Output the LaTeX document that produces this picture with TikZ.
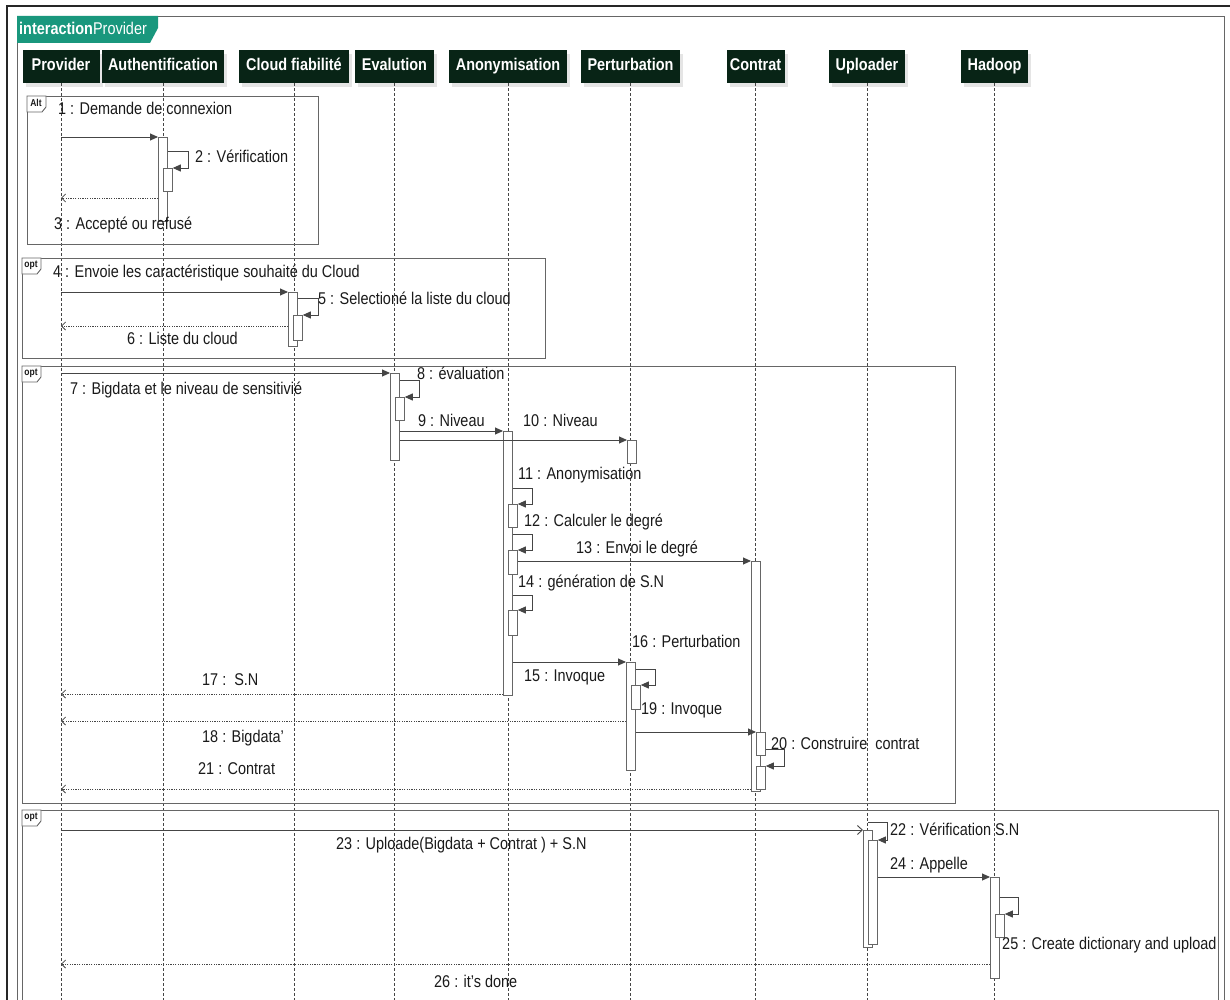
\documentclass[tikz,border=0pt]{standalone}
\usepackage{fontspec}
\setmainfont{Liberation Sans}[FakeStretch=0.85]
\usetikzlibrary{arrows.meta,shadows}
\definecolor{hd}{HTML}{082416}
\definecolor{tealtab}{HTML}{19977D}
\definecolor{ln}{HTML}{454545}
\definecolor{tx}{HTML}{1A1A1A}
\newcommand\actbox[5]{\node[act,anchor=north west,minimum width={#4-#2},minimum height={#5-#3}] (#1) at (#2,#3) {};}
\newcommand\fragtab[3]{\draw[frameline,fill=white] (#1,#2) -- ++(19,0) -- ++(0,11) -- ++(-4,5) -- ++(-15,0) -- cycle;
  \node[font=\fontsize{10}{11}\selectfont\bfseries,text=tx,inner sep=0] at (#1+9,#2+7) {#3};}
\begin{document}
\begin{tikzpicture}[x=1pt,y=-1pt,
  head/.style={fill=hd,text=white,font=\fontsize{17}{19}\selectfont\bfseries,inner sep=0,minimum height=33,
    text height=12.5,text depth=3.5,
    drop shadow={shadow xshift=3pt,shadow yshift=-4pt,fill=black!10,opacity=1}},
  life/.style={draw=ln,line width=0.7pt,dash pattern=on 3pt off 2pt},
  act/.style={draw=black!60,fill=white,line width=0.8pt,inner sep=0},
  msg/.style={draw=ln,line width=0.9pt,-{Triangle[length=8pt,width=7pt]}},
  amsg/.style={draw=ln,line width=0.9pt,-{Straight Barb[length=5pt,width=9pt]}},
  ret/.style={draw=ln,line width=0.8pt,dash pattern=on 1.2pt off 1.2pt,-{Straight Barb[length=4pt,width=8pt,line width=0.8pt]}},
  lbl/.style={inner sep=0,anchor=west,text=tx,font=\fontsize{17}{19}\selectfont,text height=12.5,text depth=3.5},
  frameline/.style={draw=black!60,line width=0.9pt}]
\useasboundingbox (0,0) rectangle (1230,1000);
\clip (0,0) rectangle (1230,1000);
\fill[white] (0,0) rectangle (1230,1000);
% outer frames
\draw[black!85,line width=1.3pt] (7,1010) -- (7,6) -- (1240,6);
\draw[frameline] (17,1010) -- (17,16) -- (1224,16) -- (1224,1010);
\fill[tealtab] (17,16) -- (158,16) -- (158,28) -- (150,43) -- (17,43) -- cycle;
\node[anchor=west,inner sep=0,text=white,font=\fontsize{17}{19}\selectfont,text height=12.5,text depth=3.5] (title) at (19,30) {\textbf{interaction}Provider};
% headers
\coordinate (bottom) at (0,1000);
\node[head,minimum width=77] (prov) at (61,66.5) {Provider};
\node[head,minimum width=122] (auth) at (163,66.5) {Authentification};
\node[head,minimum width=110] (cloud) at (294,66.5) {Cloud fiabilité};
\node[head,minimum width=79] (eval) at (394.5,66.5) {Evalution};
\node[head,minimum width=118] (anon) at (508,66.5) {Anonymisation};
\node[head,minimum width=99] (pert) at (630.5,66.5) {Perturbation};
\node[head,minimum width=58] (cont) at (755.5,66.5) {Contrat};
\node[head,minimum width=76] (upl) at (867,66.5) {Uploader};
\node[head,minimum width=67] (had) at (994.5,66.5) {Hadoop};
\foreach \n in {prov,auth,cloud,eval,anon,pert,cont,upl,had}
  \draw[life] (\n.south) -- (\n.south |- bottom);
% fragments
\draw[frameline] (27,96) rectangle (318,244);
\fragtab{27}{96}{Alt}
\draw[frameline] (22,258) rectangle (545,358);
\fragtab{22}{258}{opt}
\draw[frameline] (22,366) rectangle (955,803);
\fragtab{22}{366}{opt}
\draw[frameline] (22,1010) -- (22,810) -- (1218,810) -- (1218,1010);
\fragtab{22}{810}{opt}
% activations
\actbox{A1}{158}{137}{167}{221}
\actbox{A1b}{163}{168}{172}{191}
\actbox{A2}{288}{292}{297}{346}
\actbox{A2b}{293}{315}{302}{340}
\actbox{A3}{390}{373}{399}{460}
\actbox{A3b}{395}{397}{404}{420}
\actbox{A4}{503}{431}{512}{695}
\actbox{A4b}{508}{504}{517}{527}
\actbox{A4c}{508}{550}{517}{574}
\actbox{A4d}{508}{610}{517}{635}
\actbox{A5}{627}{440}{636}{463}
\actbox{A6}{626}{662}{635}{770}
\actbox{A6b}{631}{685}{640}{709}
\actbox{A7}{751}{561}{760}{791}
\actbox{A7b}{756}{732}{765}{755}
\actbox{A7c}{756}{766}{765}{789}
\actbox{A8}{863}{830}{872}{947}
\actbox{A8b}{868}{840}{877}{944}
\actbox{A9}{990}{877}{999}{978}
\actbox{A9b}{995}{914}{1004}{937}
% message anchors on Provider / Uploader lifelines
\coordinate (c1) at (61,137);
\coordinate (c3) at (61,198);
\coordinate (c4) at (61,292);
\coordinate (c6) at (61,326);
\coordinate (c7) at (61,373);
\coordinate (c17) at (61,694);
\coordinate (c18) at (61,721);
\coordinate (c21) at (61,789);
\coordinate (c22) at (868,822);
\coordinate (c23) at (61,830);
\coordinate (c26) at (61,964);
% messages
\draw[msg] (c1) -- (A1.north west);
\draw[msg] ([yshift=-14pt]A1.north east) -- ++(21,0) |- (A1b.north east);
\draw[ret] (c3 -| A1.west) -- (c3);
\draw[msg] (c4) -- (A2.north west);
\draw[msg] ([yshift=-6pt]A2.north east) -- ++(21,0) |- (A2b.north east);
\draw[ret] (c6 -| A2.west) -- (c6);
\draw[msg] (c7) -- (A3.north west);
\draw[msg] ([yshift=-7pt]A3.north east) -- ++(20,0) |- (A3b.north east);
\draw[msg] (A3.east |- A4.north) -- (A4.north west);
\draw[msg] (A3.east |- A5.north) -- (A5.north west);
\draw[msg] ([yshift=-57pt]A4.north east) -- ++(20,0) |- (A4b.north east);
\draw[msg] ([yshift=-103pt]A4.north east) -- ++(20,0) |- (A4c.north east);
\draw[msg] (A4c.east |- A7.north) -- (A7.north west);
\draw[msg] ([yshift=-164pt]A4.north east) -- ++(20,0) |- (A4d.north east);
\draw[msg] (A4.east |- A6.north) -- (A6.north west);
\draw[msg] ([yshift=-7pt]A6.north east) -- ++(20,0) |- (A6b.north east);
\draw[ret] (c17 -| A4.west) -- (c17);
\draw[ret] (c18 -| A6.west) -- (c18);
\draw[msg] (A6.east |- A7b.north) -- (A7b.north west);
\draw[msg] ([yshift=-17pt]A7b.north east) -- ++(19,0) |- (A7c.north east);
\draw[ret] (c21 -| A7.west) -- (c21);
\draw[msg] (c22) -- ++(19,0) |- (A8b.north east);
\draw[amsg] (c23) -- (A8.north west);
\draw[msg] (A8b.east |- A9.north) -- (A9.north west);
\draw[msg] ([yshift=-20pt]A9.north east) -- ++(19,0) |- (A9b.north east);
\draw[ret] (c26 -| A9.west) -- (c26);
% labels
\node[lbl] (l1) at (58,110) {1 : Demande de connexion};
\node[lbl] (l2) at (195,158) {2 : Vérification};
\node[lbl] (l3) at (54,225) {3 : Accepté ou refusé};
\node[lbl] (l4) at (53,273) {4 : Envoie les caractéristique souhaité du Cloud};
\node[lbl] (l5) at (318,300) {5 : Selectioné la liste du cloud};
\node[lbl] (l6) at (127,340) {6 : Liste du cloud};
\node[lbl] (l7) at (70,390) {7 : Bigdata et le niveau de sensitivié};
\node[lbl] (l8) at (417,375) {8 : évaluation};
\node[lbl] (l9) at (418,422) {9 : Niveau};
\node[lbl] (l10) at (523,422) {10 : Niveau};
\node[lbl] (l11) at (518,475) {11 : Anonymisation};
\node[lbl] (l12) at (524,522) {12 : Calculer le degré};
\node[lbl] (l13) at (576,549) {13 : Envoi le degré};
\node[lbl] (l14) at (518,583) {14 : génération de S.N};
\node[lbl] (l15) at (524,677) {15 : Invoque};
\node[lbl] (l16) at (632,643) {16 : Perturbation};
\node[lbl] (l17) at (202,681) {17 :\ \ S.N};
\node[lbl] (l18) at (202,738) {18 : Bigdata'};
\node[lbl] (l19) at (641,710) {19 : Invoque};
\node[lbl] (l20) at (771,745) {20 : Construire\ \ contrat};
\node[lbl] (l21) at (198,770) {21 : Contrat};
\node[lbl] (l22) at (890,831) {22 : Vérification S.N};
\node[lbl] (l23) at (336,845) {23 : Uploade(Bigdata + Contrat ) + S.N};
\node[lbl] (l24) at (890,865) {24 : Appelle};
\node[lbl] (l25) at (1002,945) {25 : Create dictionary and upload};
\node[lbl] (l26) at (434,983) {26 : it's done};
\end{tikzpicture}
\end{document}
